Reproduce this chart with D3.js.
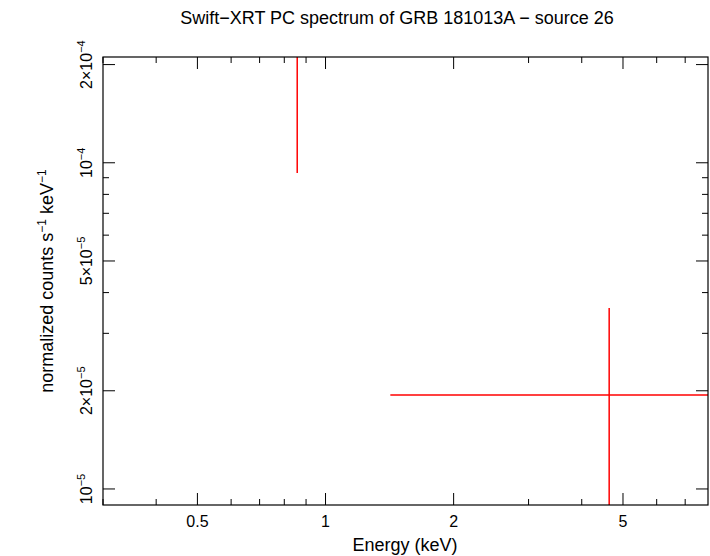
<!DOCTYPE html>
<html><head><meta charset="utf-8">
<script src="https://cdn.jsdelivr.net/npm/d3@7"></script>
<style>body{margin:0;background:#fff}text{font-family:"Liberation Sans",Arial,sans-serif}</style>
</head><body><svg id="c" width="710" height="556"></svg>
<script>
const xDomain=[0.3,7.92], yDomain=[0.893e-5,2.11e-4];
const xMajor=[0.5,1,2,5], xMajorLabels=["0.5","1","2","5"];
const xMinor=[0.3,0.4,0.6,0.7,0.8,0.9,3,4,6,7];
const yMajor=[1e-5,2e-5,5e-5,1e-4,2e-4];
const yMajorLabels=[["10","−5"],["2×10","−5"],["5×10","−5"],["10","−4"],["2×10","−4"]];
const yMinor=[3e-5,4e-5,6e-5,7e-5,8e-5,9e-5];
const pts=[{x:0.858,xlo:0.855,xhi:0.861,y:2.4e-4,ylo:9.31e-5,yhi:3e-4},
           {x:4.64,xlo:1.42,xhi:10,y:1.94e-5,ylo:5e-6,yhi:3.59e-5}];
const L=103,R=708,T=57,B=505;
const svg=d3.select("#c");
const x=d3.scaleLog().domain(xDomain).range([L,R]);
const y=d3.scaleLog().domain(yDomain).range([B,T]);
svg.append("defs").append("clipPath").attr("id","cp").append("rect").attr("x",L).attr("y",T).attr("width",R-L).attr("height",B-T);
const g=svg.append("g").attr("clip-path","url(#cp)");
pts.forEach(p=>{
 g.append("line").attr("x1",x(p.xlo)).attr("x2",x(p.xhi)).attr("y1",y(p.y)).attr("y2",y(p.y)).attr("stroke","red").attr("stroke-width",1.5);
 g.append("line").attr("x1",x(p.x)).attr("x2",x(p.x)).attr("y1",y(p.ylo)).attr("y2",y(p.yhi)).attr("stroke","red").attr("stroke-width",1.5);
});
svg.append("rect").attr("x",L).attr("y",T).attr("width",R-L).attr("height",B-T).attr("fill","none").attr("stroke","#000").attr("stroke-width",1.2);
const tk=(x1,y1,x2,y2)=>svg.append("line").attr("x1",x1).attr("y1",y1).attr("x2",x2).attr("y2",y2).attr("stroke","#000");
xMajor.forEach((v,i)=>{const px=x(v);tk(px,B,px,B-12);tk(px,T,px,T+12);
 svg.append("text").attr("x",px).attr("y",527).attr("text-anchor","middle").attr("font-size",16).text(xMajorLabels[i]);});
xMinor.forEach(v=>{const px=x(v);tk(px,B,px,B-6);tk(px,T,px,T+6);});
yMajor.forEach((v,i)=>{const py=y(v);tk(L,py,L+12,py);tk(R,py,R-12,py);
 const t=svg.append("text").attr("transform",`translate(92,${py}) rotate(-90)`).attr("text-anchor","middle").attr("font-size",16);
 t.append("tspan").text(yMajorLabels[i][0]);
 t.append("tspan").attr("dy",-7).attr("font-size",11).text(yMajorLabels[i][1]);});
yMinor.forEach(v=>{const py=y(v);tk(L,py,L+6,py);tk(R,py,R-6,py);});
svg.append("text").attr("x",405).attr("y",551).attr("text-anchor","middle").attr("font-size",18).text("Energy (keV)");
const yl=svg.append("text").attr("transform","translate(53,281) rotate(-90)").attr("text-anchor","middle").attr("font-size",18);
yl.append("tspan").text("normalized counts s");yl.append("tspan").attr("dy",-7).attr("font-size",12).text("−1");
yl.append("tspan").attr("dy",7).text(" keV");yl.append("tspan").attr("dy",-7).attr("font-size",12).text("−1");
svg.append("text").attr("x",397).attr("y",24).attr("text-anchor","middle").attr("font-size",18).text("Swift−XRT PC spectrum of GRB 181013A − source 26");
</script></body></html>
